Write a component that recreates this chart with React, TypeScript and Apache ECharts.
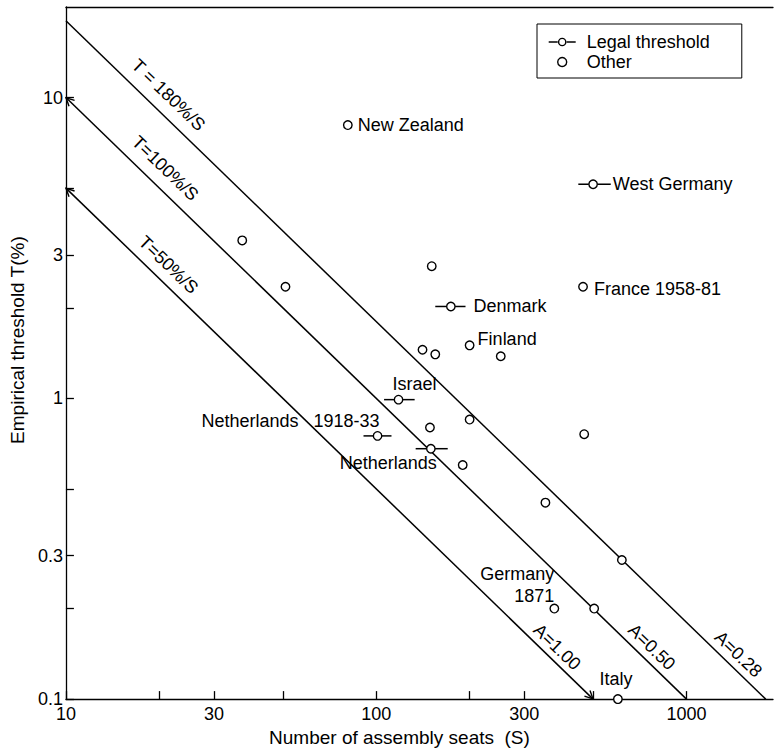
import React, { useEffect, useRef } from 'react';
import * as echarts from 'echarts';

const FONT = '"Liberation Sans", Arial, Helvetica, sans-serif';

// ---- Reference lines T = c / S ----
const refLineNames = ['T = 180%/S', 'T=100%/S', 'T=50%/S'];
const refLineEndNames = ['A=0.28', 'A=0.50', 'A=1.00'];
const refLineStartSeats = [10, 10, 10];
const refLineStartThreshold = [18, 10, 5];
const refLineEndSeats = [1800, 1000, 500];
const refLineEndThreshold = [0.1, 0.1, 0.1];
const refLineStartArrow = [false, true, true];
const refLineEndArrow = [false, false, true];

// label anchors for the reference lines (data coordinates)
const refLabelSeats = [21.4, 20.9, 21.4];
const refLabelThreshold = [10.2, 5.82, 2.78];
const endLabelSeats = [1469, 773, 383];
const endLabelThreshold = [0.141, 0.149, 0.149];

// ---- Legal threshold cases ----
const legalNames = ['West Germany', 'Denmark', 'Israel', 'Netherlands   1918-33', 'Netherlands'];
const legalSeats = [500, 174, 118, 101, 150];
const legalThreshold = [5.15, 2.02, 0.99, 0.75, 0.68];
const legalSeatsLow = [448, 155, 106, 91, 134];
const legalSeatsHigh = [570, 194, 133, 112, 170];

// ---- Other cases ----
const otherNames = [
  'New Zealand', '', '', '', 'France 1958-81', 'Finland', '', '', '', '', '', '',
  '', '', '', '', 'Germany\n1871', 'Italy',
];
const otherSeats = [81, 37, 51, 151, 464, 200, 141, 155, 252, 200, 149, 190, 468, 351, 619, 504, 375, 601];
const otherThreshold = [8.1, 3.35, 2.35, 2.75, 2.35, 1.5, 1.45, 1.4, 1.38, 0.85, 0.8, 0.6, 0.76, 0.45, 0.29, 0.2, 0.2, 0.1];

// ---- Axis ticks ----
const xTickValues = [10, 20, 30, 50, 100, 200, 300, 500, 1000];
const xLabelValues = [10, 30, 100, 300, 1000];
const yTickValues = [0.1, 0.2, 0.3, 0.5, 1, 2, 3, 5, 10];
const yLabelValues = [0.1, 0.3, 1, 3, 10];

// label placement (pixel offsets, style only)
const labelPlacement: Record<string, { from: 'point' | 'barEnd'; dx: number; dy: number; align: string }> = {
  'New Zealand': { from: 'point', dx: 10, dy: 0, align: 'left' },
  'France 1958-81': { from: 'point', dx: 11, dy: 2, align: 'left' },
  Finland: { from: 'point', dx: 8, dy: -6, align: 'left' },
  'Germany\n1871': { from: 'point', dx: 0, dy: -24, align: 'right' },
  Italy: { from: 'point', dx: -2, dy: -20, align: 'center' },
  'West Germany': { from: 'barEnd', dx: 2, dy: 0, align: 'left' },
  Denmark: { from: 'barEnd', dx: 8, dy: 0, align: 'left' },
  Israel: { from: 'point', dx: 16, dy: -16, align: 'center' },
  'Netherlands   1918-33': { from: 'point', dx: 2, dy: -15, align: 'right' },
  Netherlands: { from: 'point', dx: 6, dy: 14, align: 'right' },
};

const ARROW = 'path://M0,10 L5,0 L10,10';

const plainLabel = {
  fontFamily: FONT,
  fontSize: 18,
  color: '#000',
  opacity: 1,
  textBorderWidth: 0,
  textBorderColor: 'transparent',
  textShadowBlur: 0,
};

export default function App() {
  const ref = useRef<HTMLDivElement>(null);

  useEffect(() => {
    if (!ref.current) return;
    const chart = echarts.init(ref.current, null, { renderer: 'svg' });

    const lineSeries = refLineNames.map((name, i) => ({
      name,
      type: 'line',
      silent: true,
      symbol: 'none',
      lineStyle: { color: '#000', width: 1.5 },
      itemStyle: { color: 'transparent', borderColor: '#000', borderWidth: 1.4 },
      z: 2,
      data: [
        refLineStartArrow[i]
          ? { value: [refLineStartSeats[i], refLineStartThreshold[i]], symbol: ARROW, symbolSize: [8, 8], symbolRotate: 46, symbolOffset: [3, 3] }
          : { value: [refLineStartSeats[i], refLineStartThreshold[i]] },
        refLineEndArrow[i]
          ? { value: [refLineEndSeats[i], refLineEndThreshold[i]], symbol: ARROW, symbolSize: [8, 8], symbolRotate: -134, symbolOffset: [-3, -3] }
          : { value: [refLineEndSeats[i], refLineEndThreshold[i]] },
      ],
    }));

    const annotationData = [
      ...refLineNames.map((n, i) => ({ name: n, value: [refLabelSeats[i], refLabelThreshold[i]] })),
      ...refLineEndNames.map((n, i) => ({ name: n, value: [endLabelSeats[i], endLabelThreshold[i]] })),
    ];

    const option: any = {
      animation: false,
      backgroundColor: '#fff',
      textStyle: { fontFamily: FONT, color: '#000' },
      grid: { left: 62, top: 7, right: 1, bottom: 50 },
      legend: {
        orient: 'vertical',
        left: 537,
        top: 24,
        borderColor: '#000',
        borderWidth: 1,
        padding: [9, 32, 7, 11],
        itemGap: 2,
        itemWidth: 31,
        itemHeight: 9,
        selectedMode: false,
        textStyle: { fontFamily: FONT, fontSize: 18, color: '#000', padding: [0, 0, 0, 4] },
        data: [
          {
            name: 'Legal threshold',
            icon: 'path://M0,5 L10,5 M20,5 L30,5 M19,5 A4,4 0 1,1 11,5 A4,4 0 1,1 19,5 M15,0 L15,0.01 M15,10 L15,9.99',
            itemStyle: { color: '#fff', borderColor: '#000', borderWidth: 1.4 },
          },
          {
            name: 'Other',
            icon: 'circle',
            itemStyle: { color: '#fff', borderColor: '#000', borderWidth: 1.4 },
          },
        ],
      },
      xAxis: [
        {
          type: 'log',
          logBase: 10,
          min: 10,
          max: 1900,
          name: 'Number of assembly seats  (S)',
          nameLocation: 'middle',
          nameGap: 28,
          nameTextStyle: { fontFamily: FONT, fontSize: 19, color: '#000', padding: [0, 40, 0, 0] },
          axisLine: { show: true, lineStyle: { color: '#000', width: 1.3 } },
          axisTick: { show: true, inside: true, length: 8, customValues: xTickValues, lineStyle: { color: '#000', width: 1.3 } },
          axisLabel: {
            show: true,
            margin: 6,
            fontFamily: FONT,
            fontSize: 18,
            color: '#000',
            customValues: xLabelValues,
            formatter: (v: number) => String(Math.round(v)),
          },
          splitLine: { show: false },
          minorTick: { show: false },
        },
        {
          type: 'log',
          logBase: 10,
          min: 10,
          max: 1900,
          position: 'top',
          axisLine: { show: true, lineStyle: { color: '#000', width: 1.3 } },
          axisTick: { show: false },
          axisLabel: { show: false },
          splitLine: { show: false },
        },
      ],
      yAxis: {
        type: 'log',
        logBase: 10,
        min: 0.1,
        max: 20,
        name: 'Empirical threshold T(%)',
        nameLocation: 'middle',
        nameGap: 36,
        nameTextStyle: { fontFamily: FONT, fontSize: 19, color: '#000', padding: [0, 0, 0, 26] },
        axisLine: { show: true, lineStyle: { color: '#000', width: 1.3 } },
        axisTick: { show: true, inside: true, length: 8, customValues: yTickValues, lineStyle: { color: '#000', width: 1.3 } },
        axisLabel: {
          show: true,
          margin: 3,
          fontFamily: FONT,
          fontSize: 18,
          color: '#000',
          customValues: yLabelValues,
          formatter: (v: number) => (v >= 1 ? String(Math.round(v)) : String(Math.round(v * 10) / 10)),
        },
        splitLine: { show: false },
      },
      series: [
        ...lineSeries,
        {
          name: 'annotations',
          type: 'scatter',
          silent: true,
          symbolSize: 1,
          itemStyle: { color: 'transparent', opacity: 1 },
          z: 3,
          label: {
            show: true,
            position: 'inside',
            formatter: (p: any) => p.name,
            rotate: -44,
            align: 'center',
            verticalAlign: 'middle',
            ...plainLabel,
          },
          data: annotationData,
        },
        {
          name: 'Other',
          type: 'scatter',
          symbol: 'circle',
          symbolSize: 8.5,
          z: 5,
          clip: false,
          itemStyle: { color: '#fff', borderColor: '#000', borderWidth: 1.4, opacity: 1 },
          data: otherNames.map((n, i) => {
            const pl = labelPlacement[n];
            return {
              name: n,
              value: [otherSeats[i], otherThreshold[i]],
              label: pl
                ? {
                    show: true,
                    position: 'inside',
                    formatter: n,
                    offset: [pl.dx, pl.dy],
                    align: pl.align,
                    verticalAlign: 'middle',
                    lineHeight: 22,
                    ...plainLabel,
                  }
                : { show: false },
            };
          }),
        },
        {
          name: 'Legal threshold',
          type: 'custom',
          z: 6,
          clip: false,
          data: legalNames.map((n, i) => ({
            name: n,
            value: [legalSeats[i], legalThreshold[i], legalSeatsLow[i], legalSeatsHigh[i]],
          })),
          renderItem: (params: any, api: any) => {
            const s = api.value(0);
            const t = api.value(1);
            const c = api.coord([s, t]);
            const lo = api.coord([api.value(2), t]);
            const hi = api.coord([api.value(3), t]);
            const r = 4.2;
            const name = legalNames[params.dataIndex];
            const pl = labelPlacement[name];
            const base = pl && pl.from === 'barEnd' ? hi : c;
            const children: any[] = [
              { type: 'line', shape: { x1: lo[0], y1: lo[1], x2: c[0] - r, y2: c[1] }, style: { stroke: '#000', lineWidth: 1.5 } },
              { type: 'line', shape: { x1: c[0] + r, y1: c[1], x2: hi[0], y2: hi[1] }, style: { stroke: '#000', lineWidth: 1.5 } },
              { type: 'circle', shape: { cx: c[0], cy: c[1], r }, style: { fill: '#fff', stroke: '#000', lineWidth: 1.4 } },
            ];
            if (pl) {
              children.push({
                type: 'text',
                x: base[0] + pl.dx,
                y: base[1] + pl.dy,
                style: {
                  text: name,
                  fill: '#000',
                  fontFamily: FONT,
                  fontSize: 18,
                  align: pl.align,
                  verticalAlign: 'middle',
                },
              });
            }
            return { type: 'group', children };
          },
        },
      ],
    };

    chart.setOption(option);
    return () => chart.dispose();
  }, []);

  return (
    <div
      ref={ref}
      style={{ position: 'fixed', left: 0, top: 0, width: 774, height: 752, background: '#fff' }}
    />
  );
}
